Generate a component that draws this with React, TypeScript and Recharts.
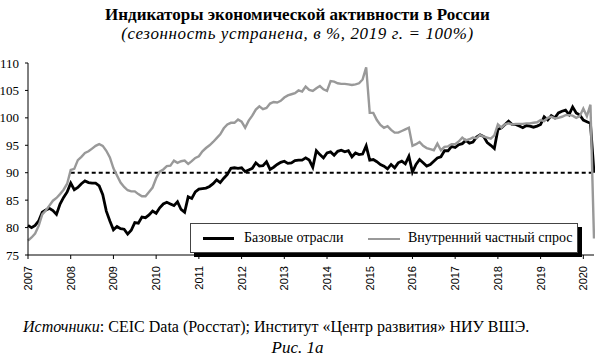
import { LineChart, Line, XAxis, YAxis, ReferenceLine } from 'recharts';

// Monthly indices, Jan 2007 .. Apr 2020 (seasonally adjusted, 2019 = 100%)
const START_YEAR = 2007;
const YEAR_TICKS = [2007, 2008, 2009, 2010, 2011, 2012, 2013, 2014, 2015, 2016, 2017, 2018, 2019, 2020];
const Y_TICKS = [75, 80, 85, 90, 95, 100, 105, 110];
const THRESHOLD = 90;
const THRESHOLD_FROM = 2008;

const BASE_INDUSTRIES = [
  80.4, 80.0, 80.4, 81.2, 82.8, 83.2, 83.5, 83.1, 82.4, 84.3, 85.5, 86.5,
  88.1, 86.9, 87.3, 88.0, 88.5, 88.2, 88.1, 88.1, 87.6, 86.0, 83.0, 81.2,
  79.6, 80.2, 79.8, 79.7, 78.8, 79.5, 80.9, 80.8, 81.9, 81.8, 82.3, 83.0,
  82.6, 83.6, 84.3, 84.6, 84.3, 84.0, 84.7, 83.3, 82.8, 85.6, 85.3, 86.5,
  87.0, 87.1, 87.2, 87.5, 88.0, 88.7, 88.2, 89.0, 89.7, 90.8, 90.9, 90.8,
  90.9, 90.2, 90.5, 90.8, 91.8, 91.2, 91.3, 92.0, 90.6, 91.0, 91.5, 91.9,
  92.1, 91.7, 91.8, 92.2, 92.3, 92.3, 92.7, 92.3, 91.0, 94.0, 93.3, 92.7,
  93.6, 93.8, 93.2, 93.9, 94.1, 93.8, 94.0, 92.9, 93.6, 93.3, 93.4, 94.9,
  92.3, 92.4, 92.0, 91.5, 91.2, 90.7, 91.5, 90.9, 91.8, 92.1, 91.6, 93.0,
  90.1, 91.5, 92.4, 91.8, 91.2, 91.5, 92.1, 92.7, 92.9, 94.0, 94.0, 94.8,
  94.6, 95.1, 95.3, 95.9, 95.4, 95.6, 96.5, 96.9, 96.6, 95.5, 95.0, 94.4,
  97.9, 98.2, 98.8, 99.4, 98.8, 98.8, 98.5, 98.2, 98.6, 98.5, 98.3, 98.5,
  98.8, 100.2, 99.6, 100.4, 100.0, 100.9, 101.2, 101.4, 100.6, 102.0, 100.9, 100.5,
  99.6, 99.3, 99.0, 90.0,
];

const PRIVATE_DEMAND = [
  77.6, 78.2, 78.9, 80.3, 82.4, 83.1, 84.0, 84.9, 85.4, 86.1, 86.9, 88.0,
  90.5, 90.7, 92.3, 92.9, 93.6, 93.9, 94.4, 94.9, 95.2, 94.9, 94.0, 92.8,
  90.8, 89.5, 88.2, 87.4, 86.8, 86.6, 86.6, 86.1, 85.7, 85.7, 86.5, 87.3,
  89.0, 90.2, 90.6, 91.2, 91.3, 92.2, 91.8, 92.1, 92.2, 91.6, 92.1, 92.7,
  93.0, 93.9, 94.5, 95.0, 95.6, 96.3, 97.0, 98.1, 98.8, 99.1, 99.1, 99.7,
  99.3, 98.2, 99.5, 100.4, 101.5, 102.1, 101.6, 101.8, 102.6, 102.9, 102.8, 103.1,
  103.7, 104.1, 104.3, 104.5, 105.0, 104.8, 105.7, 105.1, 104.9, 105.4, 105.8, 105.2,
  104.9, 106.7, 106.6, 106.3, 106.2, 106.2, 106.1, 106.0, 106.1, 106.3, 107.0, 109.2,
  100.9, 100.9, 99.6, 98.7, 98.2, 98.5, 97.8, 97.3, 97.3, 97.6, 97.9, 98.2,
  94.9, 95.2, 95.6, 94.9, 94.5, 94.3, 94.1, 95.3, 94.1, 94.7, 94.8, 95.2,
  95.2, 95.7, 96.4, 95.9, 96.1, 96.4, 96.3, 96.9, 96.6, 96.4, 96.2, 96.8,
  98.8, 98.2, 98.8, 99.0, 98.8, 98.9, 98.9, 98.9, 99.0, 99.0, 99.1, 99.2,
  99.6, 99.4, 100.0, 100.2, 99.9, 100.0, 100.2, 100.5, 100.5, 100.4, 100.0, 100.3,
  101.7, 100.3, 102.4, 78.0,
];

const data = BASE_INDUSTRIES.map((v, i) => ({
  t: START_YEAR + i / 12,
  base: v,
  demand: PRIVATE_DEMAND[i],
}));
const END_T = data[data.length - 1].t;

const SERIF = '"Liberation Serif", "DejaVu Serif", serif';
const SANS = '"Liberation Sans", Arial, sans-serif';

function YearTick(props: any) {
  const { x, y, payload } = props;
  return (
    <text
      transform={`translate(${x},${y + 5}) rotate(-90)`}
      textAnchor="end"
      dominantBaseline="central"
      fontFamily={SANS}
      fontSize={11}
      fill="#000"
    >
      {payload.value}
    </text>
  );
}

export default function App() {
  return (
    <div style={{ position: 'absolute', left: 0, top: 0, width: 595, height: 357, background: '#fff' }}>
      <div
        style={{
          position: 'absolute', left: 0, top: 6, width: 595, textAlign: 'center',
          fontFamily: SERIF, fontWeight: 'bold', fontSize: 17, lineHeight: '18px',
        }}
      >
        Индикаторы экономической активности в России
      </div>
      <div
        style={{
          position: 'absolute', left: 0, top: 25, width: 595, textAlign: 'center',
          fontFamily: SERIF, fontStyle: 'italic', fontSize: 17, lineHeight: '18px', letterSpacing: 0.6,
        }}
      >
        (сезонность устранена, в %, 2019 г. = 100%)
      </div>

      <LineChart width={595} height={357} data={data} margin={{ top: 63, right: 1, left: 0, bottom: 0 }}>
        <XAxis
          dataKey="t"
          type="number"
          domain={[START_YEAR, END_T]}
          ticks={YEAR_TICKS}
          interval={0}
          height={102}
          tickSize={4}
          tick={<YearTick />}
          axisLine={{ stroke: '#000' }}
          tickLine={{ stroke: '#000' }}
        />
        <YAxis
          domain={[75, 110]}
          ticks={Y_TICKS}
          width={28}
          tickSize={3}
          tickMargin={6}
          allowDataOverflow
          tick={{ fontFamily: SERIF, fontSize: 13, fill: '#000' }}
          axisLine={{ stroke: '#000' }}
          tickLine={{ stroke: '#000' }}
        />
        <ReferenceLine
          segment={[{ x: THRESHOLD_FROM, y: THRESHOLD }, { x: END_T, y: THRESHOLD }]}
          stroke="#000"
          strokeWidth={2}
          strokeDasharray="4 3"
        />
        <Line
          dataKey="base"
          type="linear"
          stroke="#000"
          strokeWidth={2.8}
          dot={false}
          isAnimationActive={false}
        />
        <Line
          dataKey="demand"
          type="linear"
          stroke="#999"
          strokeWidth={2.4}
          dot={false}
          isAnimationActive={false}
        />
      </LineChart>

      {/* legend box with drop shadow */}
      <div
        style={{
          position: 'absolute', left: 190, top: 223, width: 388, height: 30,
          boxSizing: 'border-box', border: '1px solid #444', background: '#fff',
          boxShadow: '4px 4px 0 #000', fontFamily: SERIF, fontSize: 14,
        }}
      >
        <div style={{ position: 'absolute', left: 12, top: 13, width: 31, height: 3, background: '#000' }} />
        <div style={{ position: 'absolute', left: 53, top: 5, lineHeight: '17px' }}>Базовые отрасли</div>
        <div style={{ position: 'absolute', left: 177, top: 14, width: 32, height: 2, background: '#999' }} />
        <div style={{ position: 'absolute', left: 217, top: 5, lineHeight: '17px' }}>Внутренний частный спрос</div>
      </div>

      <div
        style={{
          position: 'absolute', left: 23, top: 318, fontFamily: SERIF, fontSize: 16, lineHeight: '18px',
        }}
      >
        <i>Источники</i>: CEIC Data (Росстат); Институт «Центр развития» НИУ ВШЭ.
      </div>
      <div
        style={{
          position: 'absolute', left: 0, top: 339, width: 595, textAlign: 'center',
          fontFamily: SERIF, fontStyle: 'italic', fontSize: 17, lineHeight: '18px',
        }}
      >
        Рис. 1а
      </div>
    </div>
  );
}
